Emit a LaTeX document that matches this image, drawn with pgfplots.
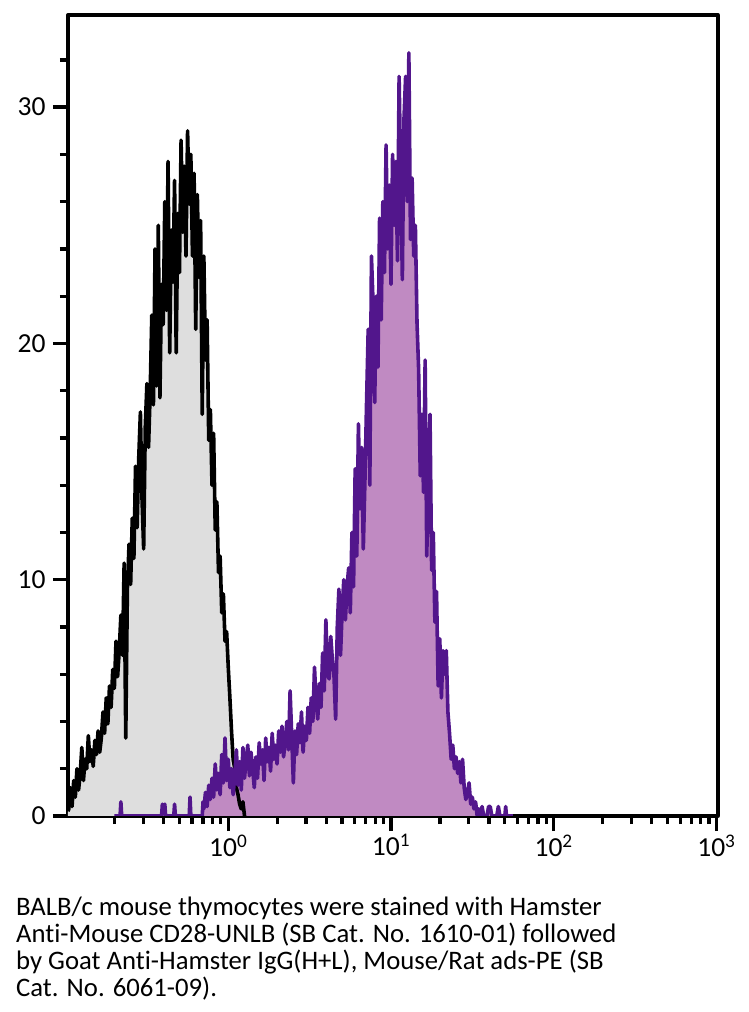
\documentclass[border=0pt]{standalone}
\usepackage{fontspec}
\setmainfont{Carlito}[Ligatures={NoCommon,NoRequired,NoContextual},RawFeature={-liga;-clig;-calt;-dlig}]
\usepackage{pgfplots}
\usepackage{pgfplotstable}
\pgfplotsset{compat=1.18}
\definecolor{greyfill}{HTML}{DEDEDE}
\definecolor{purpfill}{HTML}{C08AC2}
\definecolor{purpline}{HTML}{52168C}

% x = log10 of fluorescence intensity, y = counts
\pgfplotstableread{
x y
-0.985 0.2
-0.98 0.3
-0.97 1.2
-0.96 0.4
-0.95 1.5
-0.94 0.8
-0.93 2.0
-0.92 1.1
-0.91 1.8
-0.90 2.9
-0.89 1.5
-0.88 2.4
-0.87 2.0
-0.86 3.4
-0.85 2.3
-0.84 2.8
-0.83 2.1
-0.82 3.2
-0.81 2.6
-0.80 3.6
-0.79 2.7
-0.78 3.3
-0.77 4.4
-0.76 3.5
-0.75 5.0
-0.74 3.9
-0.73 5.5
-0.72 4.6
-0.71 6.2
-0.70 5.4
-0.69 7.4
-0.68 5.9
-0.67 7.0
-0.66 8.5
-0.65 6.8
-0.64 10.7
-0.63 3.3
-0.62 9.6
-0.61 11.5
-0.60 9.8
-0.59 12.6
-0.58 10.9
-0.57 14.8
-0.56 12.2
-0.55 15.2
-0.54 17.1
-0.53 13.4
-0.52 11.3
-0.51 16.5
-0.50 18.3
-0.49 15.6
-0.48 17.9
-0.47 21.2
-0.46 17.4
-0.45 24.0
-0.44 18.2
-0.43 25.0
-0.42 17.7
-0.41 22.5
-0.40 20.8
-0.39 26.0
-0.38 21.4
-0.37 27.7
-0.36 19.6
-0.35 24.8
-0.34 22.6
-0.33 26.9
-0.32 19.6
-0.31 25.5
-0.30 23.0
-0.29 28.6
-0.28 24.7
-0.27 27.5
-0.26 23.7
-0.25 29.0
-0.24 25.9
-0.23 28.0
-0.22 23.7
-0.21 27.2
-0.20 20.6
-0.19 26.3
-0.18 22.8
-0.17 25.2
-0.16 17.0
-0.15 23.7
-0.14 19.3
-0.13 21.0
-0.12 15.9
-0.11 17.2
-0.10 14.0
-0.09 16.2
-0.08 12.1
-0.07 13.3
-0.06 10.3
-0.05 11.0
-0.04 8.6
-0.03 9.4
-0.02 7.4
-0.01 7.8
0.00 6.3
0.01 5.0
0.02 3.6
0.03 2.4
0.04 2.0
0.05 1.2
0.06 0.9
0.07 0.5
0.08 0.3
0.09 0.6
0.10 0.0
0.11 0.0
}\blackdata

\pgfplotstableread{
x y
-0.70 0
-0.665 0
-0.66 0.6
-0.655 0
-0.41 0
-0.405 0.5
-0.40 0.3
-0.39 0.5
-0.385 0
-0.335 0
-0.33 0.5
-0.325 0
-0.24 0
-0.235 0.8
-0.23 0
-0.16 0
-0.155 0.6
-0.15 0.3
-0.14 1.0
-0.13 0.4
-0.12 1.3
-0.11 0.7
-0.10 1.6
-0.09 0.8
-0.08 2.2
-0.07 1.1
-0.06 1.8
-0.05 0.9
-0.04 2.6
-0.03 1.4
-0.02 3.3
-0.01 1.5
0.00 2.4
0.01 1.2
0.02 2.0
0.03 0.9
0.04 1.7
0.05 2.8
0.06 1.3
0.07 2.3
0.08 1.1
0.09 2.9
0.10 1.6
0.11 2.4
0.12 3.0
0.13 1.7
0.14 2.7
0.15 2.0
0.16 1.2
0.17 2.5
0.18 1.6
0.19 3.1
0.20 2.2
0.21 2.8
0.22 1.5
0.23 3.3
0.24 2.3
0.25 2.9
0.26 1.9
0.27 3.5
0.28 2.4
0.29 3.0
0.30 2.2
0.31 3.6
0.32 2.7
0.33 3.8
0.34 2.5
0.35 3.2
0.36 4.0
0.37 2.8
0.38 5.3
0.39 3.4
0.40 1.4
0.41 3.6
0.42 2.6
0.43 3.9
0.44 3.1
0.45 4.4
0.46 2.7
0.47 3.8
0.48 3.2
0.49 4.6
0.50 3.5
0.51 5.0
0.52 4.0
0.53 6.3
0.54 4.8
0.55 4.1
0.56 5.6
0.57 4.6
0.58 6.9
0.59 5.3
0.60 8.3
0.61 6.0
0.62 5.8
0.63 7.6
0.64 6.6
0.65 5.9
0.66 4.1
0.67 8.0
0.68 9.6
0.69 6.8
0.70 8.7
0.71 10.0
0.72 8.3
0.73 9.7
0.74 10.5
0.75 8.6
0.76 12.0
0.77 9.7
0.78 14.7
0.79 11.0
0.80 16.6
0.81 13.0
0.82 15.6
0.83 11.3
0.84 14.2
0.85 17.5
0.86 20.6
0.87 14.0
0.88 23.7
0.89 21.7
0.90 17.5
0.91 22.0
0.92 19.0
0.93 25.3
0.94 21.0
0.95 26.0
0.96 23.0
0.97 28.4
0.98 24.0
0.99 26.7
1.00 22.5
1.01 28.0
1.02 25.0
1.03 27.7
1.04 23.5
1.05 31.3
1.06 27.0
1.07 22.7
1.08 29.5
1.09 31.3
1.10 26.0
1.11 32.3
1.12 24.4
1.13 27.0
1.14 23.7
1.15 25.0
1.16 20.9
1.17 18.9
1.18 14.4
1.19 17.0
1.20 13.7
1.21 19.3
1.22 11.0
1.23 14.5
1.24 17.0
1.25 10.4
1.26 12.0
1.27 8.2
1.28 9.5
1.29 5.5
1.30 7.5
1.31 5.0
1.32 7.0
1.33 6.0
1.34 7.0
1.35 4.4
1.36 3.5
1.37 2.4
1.38 3.0
1.39 2.0
1.40 2.5
1.41 1.8
1.42 2.3
1.43 1.4
1.44 2.4
1.45 1.2
1.46 0.7
1.47 1.0
1.48 1.4
1.49 0.5
1.50 0.8
1.51 0.3
1.52 0.6
1.53 0.0
1.54 0.3
1.55 0
1.56 0.4
1.57 0
1.59 0
1.60 0.4
1.61 0.4
1.62 0
1.65 0
1.66 0.4
1.67 0
1.70 0
1.705 0.4
1.71 0
1.75 0
}\purpdata

\begin{document}
\begin{tikzpicture}[x=1pt,y=1pt]
\useasboundingbox (0,0) rectangle (748,1012);
\begin{axis}[
  at={(68pt,196pt)}, anchor=south west,
  width=650pt, height=801pt, scale only axis,
  xmin=-0.985, xmax=3.01, ymin=0, ymax=33.9,
  axis line style={line width=3.3pt},
  xtick={0,1,2,3},
  xticklabels={10\textsuperscript{0},10\textsuperscript{1},10\textsuperscript{2},10\textsuperscript{3}},
  minor xtick={-0.699,-0.523,-0.398,-0.301,-0.222,-0.155,-0.097,-0.046,
    0.301,0.477,0.602,0.699,0.778,0.845,0.903,0.954,
    1.301,1.477,1.602,1.699,1.778,1.845,1.903,1.954,
    2.301,2.477,2.602,2.699,2.778,2.845,2.903,2.954},
  ytick={0,10,20,30},
  minor ytick={2,4,6,8,12,14,16,18,22,24,26,28,32},
  tick align=outside, tick pos=left,
  major tick length=15pt, minor tick length=8pt,
  tick style={line width=3.3pt, black},
  ticklabel style={font=\fontsize{27.5}{30}\selectfont},
  yticklabel style={xshift=-4pt},
  /pgf/number format/assume math mode=true,
  line join=round,
]
\addplot[fill=greyfill, draw=none] table[x=x,y=y] {\blackdata} \closedcycle;
\addplot[fill=purpfill, draw=none] table[x=x,y=y] {\purpdata} \closedcycle;
\addplot[black, line width=3.6pt, line join=round] table[x=x,y=y] {\blackdata};
\addplot[purpline, line width=3.6pt, line join=round] table[x=x,y=y] {\purpdata};
\end{axis}
\begin{scope}[every node/.style={anchor=base west, inner sep=0pt, font=\fontsize{26.7}{27}\selectfont}]
\node at (16,96) {BALB/c mouse thymocytes were stained with Hamster};
\node at (16,69) {Anti-Mouse CD28-UNLB (SB Cat. No. 1610-01) followed};
\node at (16,42) {by Goat Anti-Hamster IgG(H+L), Mouse/Rat ads-PE (SB};
\node at (16,15) {Cat. No. 6061-09).};
\end{scope}
\end{tikzpicture}
\end{document}
